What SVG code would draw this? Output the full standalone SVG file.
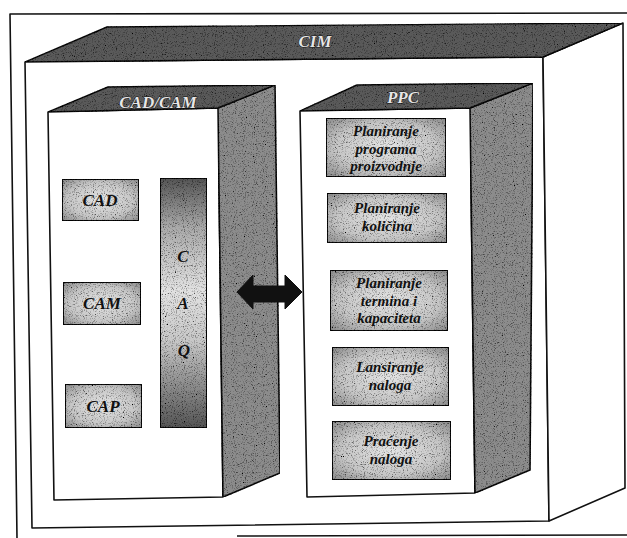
<svg xmlns="http://www.w3.org/2000/svg" width="627" height="538" viewBox="0 0 627 538">
<style>
  .ln{fill:none;stroke:#111;stroke-width:1.6;stroke-linejoin:round}
  .face{fill:#fff;stroke:#111;stroke-width:1.6;stroke-linejoin:round}
  .top{fill:#5a5a5a;stroke:#111;stroke-width:1.4;stroke-linejoin:round}
  .side{fill:#8c8c8c;stroke:#111;stroke-width:1.6;stroke-linejoin:round}
  .box{fill:url(#boxg);stroke:#111;stroke-width:2}
  .t{font-family:"Liberation Serif","Times New Roman",serif;font-weight:bold;font-style:italic;fill:#111;text-anchor:middle}
  .bt{font-size:17px}
  .pt{font-size:15px}
  .hd{font-size:17px;fill:#e6e6e6;stroke:#111;stroke-width:0.9;paint-order:stroke}
</style>
<defs>
  <filter id="grain" x="0" y="0" width="100%" height="100%">
    <feTurbulence type="fractalNoise" baseFrequency="0.9" numOctaves="2" seed="4" result="n"/>
    <feColorMatrix in="n" type="matrix" values="0 0 0 0 0  0 0 0 0 0  0 0 0 0 0  0 0 0 -3 1.45" result="d"/>
    <feComposite in="d" in2="SourceGraphic" operator="in" result="d2"/>
    <feMerge><feMergeNode in="SourceGraphic"/><feMergeNode in="d2"/></feMerge>
  </filter>
  <radialGradient id="boxg" cx="50%" cy="50%" r="70%">
    <stop offset="0" stop-color="#e4e4e4"/>
    <stop offset="0.6" stop-color="#c6c6c6"/>
    <stop offset="1" stop-color="#8a8a8a"/>
  </radialGradient>
  <linearGradient id="caqg" x1="0" y1="0" x2="0" y2="1">
    <stop offset="0" stop-color="#555"/>
    <stop offset="0.2" stop-color="#aaa"/>
    <stop offset="0.45" stop-color="#e2e2e2"/>
    <stop offset="0.65" stop-color="#c8c8c8"/>
    <stop offset="1" stop-color="#555"/>
  </linearGradient>
</defs>

<g id="frame">
  <path class="ln" d="M627 13 L10 14 L17 538"/>
  <path class="ln" d="M237 536 L627 535"/>
</g>

<g id="cim">
  <polygon class="face" points="25,62 543,57 549,521 32,528"/>
  <polygon class="face" points="543,57 623,23 625,488 549,521"/>
  <polygon class="top" filter="url(#grain)" points="25,62 107,27 623,23 543,57"/>
  <text class="t hd" x="315" y="47">CIM</text>
</g>

<g id="cadcam">
  <polygon class="face" points="48,112 218,108 223,497 54,500"/>
  <polygon class="side" filter="url(#grain)" points="218,108 275,85 280,473 223,497"/>
  <polygon class="top" filter="url(#grain)" points="48,112 108,87 275,85 218,108"/>
  <text class="t hd" x="158" y="108">CAD/CAM</text>
</g>

<g id="cad">
  <rect class="box" filter="url(#grain)" x="62" y="179" width="77" height="42"/>
  <text class="t bt" x="100" y="206">CAD</text>
</g>
<g id="cam">
  <rect class="box" filter="url(#grain)" x="63" y="282" width="78" height="43"/>
  <text class="t bt" x="102" y="309">CAM</text>
</g>
<g id="cap">
  <rect class="box" filter="url(#grain)" x="65" y="384" width="77" height="44"/>
  <text class="t bt" x="103" y="412">CAP</text>
</g>
<g id="caq">
  <rect x="160" y="178" width="47" height="250" fill="url(#caqg)" stroke="#111" stroke-width="2" filter="url(#grain)"/>
  <text class="t bt" x="183" y="262">C</text>
  <text class="t bt" x="183" y="309">A</text>
  <text class="t bt" x="184" y="356">Q</text>
</g>

<g id="ppc">
  <polygon class="face" points="300,111 470,108 475,493 307,497"/>
  <polygon class="side" filter="url(#grain)" points="470,108 533,83 530,470 475,493"/>
  <polygon class="top" filter="url(#grain)" points="300,111 357,85 533,83 470,108"/>
  <text class="t hd" x="403" y="103">PPC</text>
</g>

<g id="ppc1">
  <rect class="box" filter="url(#grain)" x="326" y="118" width="120" height="59"/>
  <text class="t pt" x="386" y="136">Planiranje</text>
  <text class="t pt" x="386" y="153.5">programa</text>
  <text class="t pt" x="386" y="171">proizvodnje</text>
</g>
<g id="ppc2">
  <rect class="box" filter="url(#grain)" x="327" y="193" width="120" height="50"/>
  <text class="t pt" x="387" y="213">Planiranje</text>
  <text class="t pt" x="387" y="231">količina</text>
</g>
<g id="ppc3">
  <rect class="box" filter="url(#grain)" x="330" y="270" width="118" height="61"/>
  <text class="t pt" x="389" y="288">Planiranje</text>
  <text class="t pt" x="389" y="305.5">termina i</text>
  <text class="t pt" x="389" y="323">kapaciteta</text>
</g>
<g id="ppc4">
  <rect class="box" filter="url(#grain)" x="332" y="347" width="117" height="59"/>
  <text class="t pt" x="390" y="372">Lansiranje</text>
  <text class="t pt" x="390" y="390">naloga</text>
</g>
<g id="ppc5">
  <rect class="box" filter="url(#grain)" x="332" y="421" width="119" height="59"/>
  <text class="t pt" x="391" y="446">Praćenje</text>
  <text class="t pt" x="391" y="464">naloga</text>
</g>

<g id="connectors">
  <polygon fill="#111" stroke="#111" stroke-width="1" stroke-linejoin="round" points="237,292 253,275 253,286 285,286 285,275 302,292 285,309 285,302 253,302 253,309"/>
</g>
</svg>
